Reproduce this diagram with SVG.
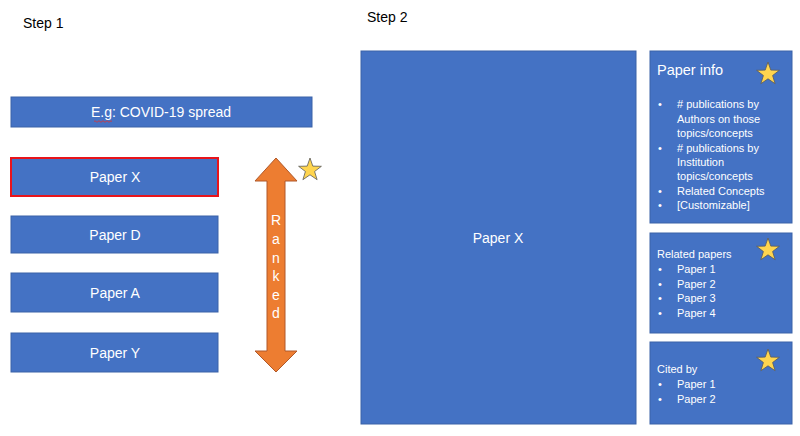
<svg xmlns="http://www.w3.org/2000/svg" width="800" height="436" viewBox="0 0 800 436">
<defs>
<style>
text{font-family:"Liberation Sans",Arial,sans-serif;}
.box{fill:#4472C4;stroke:#3A62A8;stroke-width:1;}
.w{fill:#FFFFFF;}
.lbl{fill:#FFFFFF;font-size:14px;text-anchor:middle;}
.hd{fill:#000000;font-size:14px;}
.sm{fill:#FFFFFF;font-size:11px;}
.star{fill:#FFD54F;stroke:#5A5A5A;stroke-width:0.8;}
</style>
<polygon id="starShape" points="0,-12 2.8,-3.9 11.4,-3.7 4.6,1.5 7.1,9.7 0,4.8 -7.1,9.7 -4.6,1.5 -11.4,-3.7 -2.8,-3.9"/>
</defs>
<rect width="800" height="436" fill="#FFFFFF"/>

<text class="hd" x="23" y="28">Step 1</text>
<text class="hd" x="367" y="22">Step 2</text>

<g id="query">
<rect class="box" x="11" y="97" width="301" height="30"/>
<text class="lbl" x="161" y="117">E.g: COVID-19 spread</text>
<path d="M94,121.5 q1,-1.5 2,0 t2,0 t2,0 t2,0 t2,0 t2,0 t2,0 t2,0 t2,0" fill="none" stroke="#E03030" stroke-width="0.8"/>
</g>

<g id="paperX">
<rect x="11" y="158" width="207" height="38" fill="#4472C4" stroke="#E8141B" stroke-width="2"/>
<text class="lbl" x="115" y="182">Paper X</text>
</g>
<g id="paperD">
<rect class="box" x="11" y="216" width="207" height="37"/>
<text class="lbl" x="115" y="240">Paper D</text>
</g>
<g id="paperA">
<rect class="box" x="11" y="273" width="207" height="39"/>
<text class="lbl" x="115" y="298">Paper A</text>
</g>
<g id="paperY">
<rect class="box" x="11" y="333" width="207" height="39"/>
<text class="lbl" x="115" y="358">Paper Y</text>
</g>

<g id="ranked">
<polygon points="276,158 297,181 285,181 285,351 297,351 276,372 255,351 267,351 267,181 255,181" fill="#ED7D31" stroke="#B0592A" stroke-width="1"/>
<g fill="#FFFFFF" font-size="14" text-anchor="middle" font-family="Liberation Sans, Arial, sans-serif">
<text x="276" y="225">R</text>
<text x="276" y="244">a</text>
<text x="276" y="263">n</text>
<text x="276" y="281">k</text>
<text x="276" y="300">e</text>
<text x="276" y="318">d</text>
</g>
<use href="#starShape" class="star" transform="translate(310,170)"/>
</g>

<g id="paperXDetail">
<rect class="box" x="361" y="51" width="275" height="373"/>
<text class="lbl" x="498" y="243">Paper X</text>
</g>

<g id="paperInfo">
<rect class="box" x="650" y="51" width="142" height="172"/>
<text class="w" x="657" y="75" font-size="14.5">Paper info</text>
<use href="#starShape" class="star" transform="translate(768,74)"/>
<g class="sm">
<text x="658" y="108">•</text><text x="677" y="108"># publications by</text>
<text x="677" y="122.5">Authors on those</text>
<text x="677" y="137">topics/concepts</text>
<text x="658" y="151.5">•</text><text x="677" y="151.5"># publications by</text>
<text x="677" y="166">Institution</text>
<text x="677" y="180">topics/concepts</text>
<text x="658" y="194.5">•</text><text x="677" y="194.5">Related Concepts</text>
<text x="658" y="209">•</text><text x="677" y="209">[Customizable]</text>
</g>
</g>

<g id="relatedPapers">
<rect class="box" x="650" y="233" width="142" height="100"/>
<use href="#starShape" class="star" transform="translate(768,250)"/>
<g class="sm">
<text x="657" y="258">Related papers</text>
<text x="658" y="273">•</text><text x="677" y="273">Paper 1</text>
<text x="658" y="287.5">•</text><text x="677" y="287.5">Paper 2</text>
<text x="658" y="302">•</text><text x="677" y="302">Paper 3</text>
<text x="658" y="316.5">•</text><text x="677" y="316.5">Paper 4</text>
</g>
</g>

<g id="citedBy">
<rect class="box" x="650" y="342" width="142" height="82"/>
<use href="#starShape" class="star" transform="translate(768,361)"/>
<g class="sm">
<text x="657" y="373">Cited by</text>
<text x="658" y="388">•</text><text x="677" y="388">Paper 1</text>
<text x="658" y="402.5">•</text><text x="677" y="402.5">Paper 2</text>
</g>
</g>

<g id="connectors"></g>
</svg>
